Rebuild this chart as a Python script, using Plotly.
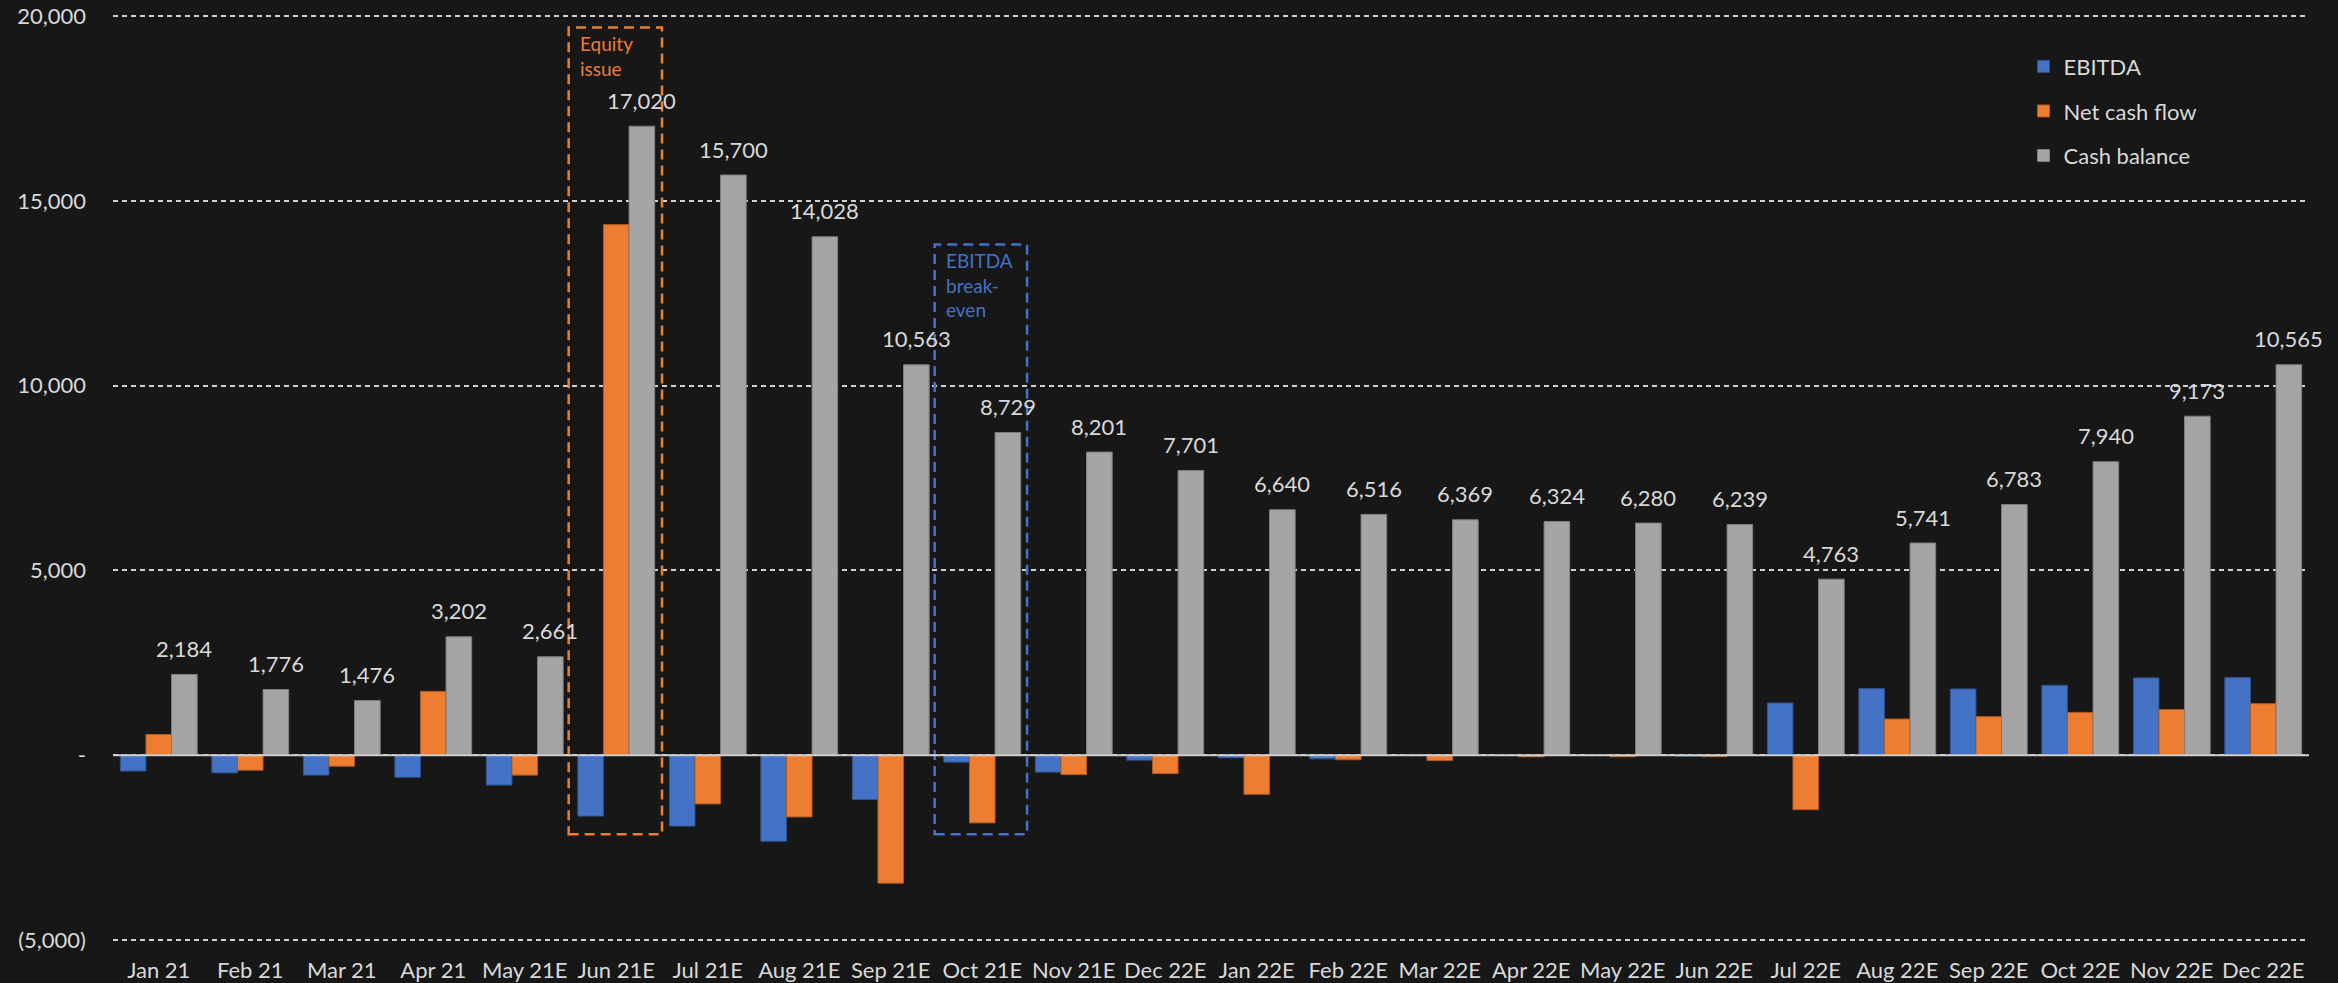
import plotly.graph_objects as go

months = ["Jan 21", "Feb 21", "Mar 21", "Apr 21", "May 21E", "Jun 21E", "Jul 21E", "Aug 21E",
          "Sep 21E", "Oct 21E", "Nov 21E", "Dec 22E", "Jan 22E", "Feb 22E", "Mar 22E", "Apr 22E",
          "May 22E", "Jun 22E", "Jul 22E", "Aug 22E", "Sep 22E", "Oct 22E", "Nov 22E", "Dec 22E"]

ebitda = [-430, -480, -540, -600, -810, -1650, -1920, -2330, -1200, -190, -460, -136,
          -72, -100, 0, 0, 0, -30, 1410, 1800, 1790, 1890, 2090, 2100]

net_cash_flow = [560, -408, -300, 1726, -541, 14359, -1320, -1672, -3465, -1834, -528, -500,
                 -1061, -124, -147, -45, -44, -41, -1476, 978, 1042, 1157, 1233, 1392]

cash_balance = [2184, 1776, 1476, 3202, 2661, 17020, 15700, 14028, 10563, 8729, 8201, 7701,
                6640, 6516, 6369, 6324, 6280, 6239, 4763, 5741, 6783, 7940, 9173, 10565]

ytick_vals = [-5000, 0, 5000, 10000, 15000, 20000]
ytick_text = ["(5,000)", "-", "5,000", "10,000", "15,000", "20,000"]

BLUE = "#4472C4"
ORANGE = "#ED7D31"
GRAY = "#A5A5A5"
BG = "#171717"
TXT = "#D9D9D9"
FONT = "Lato"

x = list(range(len(months)))

fig = go.Figure()
fig.add_trace(go.Bar(x=x, y=ebitda, name="EBITDA", legendgroup="a",
                     marker=dict(color=BLUE, line=dict(color="#2F528F", width=1))))
fig.add_trace(go.Bar(x=x, y=net_cash_flow, name="Net cash flow", legendgroup="b",
                     marker=dict(color=ORANGE, line=dict(color="#AE5A21", width=1))))
fig.add_trace(go.Bar(x=x, y=cash_balance, name="Cash balance", legendgroup="c",
                     marker=dict(color=GRAY, line=dict(color="#7F7F7F", width=1))))

bargap = 0.16
bw = (1 - bargap) / 3

annotations = []
for i, v in enumerate(cash_balance):
    annotations.append(dict(x=i + bw, y=v, xref="x", yref="y", text=f"{v:,}",
                            showarrow=False, yshift=26, yanchor="middle",
                            font=dict(family=FONT, size=22, color=TXT)))

# highlight boxes
eq_box = dict(x0=4.48, x1=5.50, y0=-2140, y1=19690)
be_box = dict(x0=8.48, x1=9.49, y0=-2140, y1=13820)
shapes = [
    dict(type="rect", xref="x", yref="y", **eq_box, layer="above",
         line=dict(color=ORANGE, width=2.5, dash="10px,6px")),
    dict(type="rect", xref="x", yref="y", **be_box, layer="above",
         line=dict(color=BLUE, width=2.5, dash="10px,6px")),
    dict(type="line", xref="paper", yref="y", x0=0, x1=1, y0=0, y1=0, layer="above",
         line=dict(color="#CFCFCF", width=2)),
]
annotations.append(dict(x=eq_box["x0"] + 0.1, y=eq_box["y1"], xref="x", yref="y",
                        text="Equity<br>issue", showarrow=False, xanchor="left", yanchor="top",
                        yshift=-2, align="left",
                        font=dict(family=FONT, size=19, color=ORANGE)))
annotations.append(dict(x=be_box["x0"] + 0.1, y=be_box["y1"], xref="x", yref="y",
                        text="EBITDA<br>break-<br>even", showarrow=False, xanchor="left",
                        yanchor="top", yshift=-3, align="left",
                        font=dict(family=FONT, size=19, color=BLUE)))

fig.update_layout(
    width=2338, height=983,
    paper_bgcolor=BG, plot_bgcolor=BG,
    barmode="group", bargap=bargap, bargroupgap=0,
    margin=dict(l=113, r=29, t=15, b=42, autoexpand=False),
    font=dict(family=FONT, size=22, color=TXT),
    showlegend=True,
    legend=dict(x=0.870, y=0.967, xanchor="left", yanchor="top",
                bgcolor="rgba(0,0,0,0)", font=dict(family=FONT, size=22, color=TXT),
                tracegroupgap=13, itemwidth=30),
    xaxis=dict(range=[-0.5, len(months) - 0.5], tickmode="array", tickvals=x,
               ticktext=months, showgrid=False, zeroline=False, showline=False,
               ticks="", ticklabelstandoff=14, automargin=False,
               tickfont=dict(family=FONT, size=22, color=TXT)),
    yaxis=dict(range=[-5030, 20030], tickmode="array", tickvals=ytick_vals,
               ticktext=ytick_text, showgrid=True, gridcolor="#D0D0D0", gridwidth=1.5,
               griddash="5px,4px", zeroline=False, showline=False, ticks="",
               ticklabelstandoff=26, automargin=False,
               tickfont=dict(family=FONT, size=22, color=TXT)),
    shapes=shapes,
    annotations=annotations,
)

fig.write_html("out.html", config={"displayModeBar": False},
               post_script="document.body.style.margin='0';"
                           "document.body.style.background='#171717';"
                           "document.documentElement.style.overflow='hidden';")
